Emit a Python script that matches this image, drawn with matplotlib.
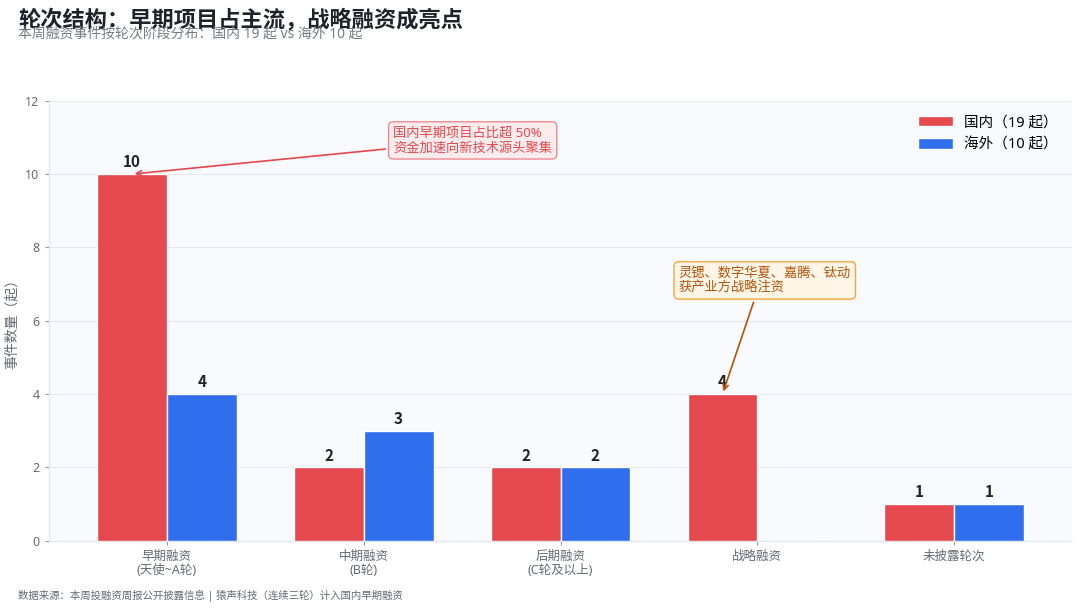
import numpy as np
import matplotlib.pyplot as plt

plt.rcParams['font.family'] = ['Noto Sans', 'Noto Sans CJK SC', 'DejaVu Sans']

# 数据
categories = ['早期融资\n(天使~A轮)', '中期融资\n(B轮)', '后期融资\n(C轮及以上)', '战略融资', '未披露轮次']
domestic = [10, 2, 2, 4, 1]
overseas = [4, 3, 2, 0, 1]

red = '#e5484d'
blue = '#2f6fed'

fig = plt.figure(figsize=(10.8, 6.11), dpi=100)
ax = fig.add_axes([0.045, 0.115, 0.948, 0.72])
ax.set_facecolor('#f9fafe')

x = np.arange(len(categories))
w = 0.355
b1 = ax.bar(x - w / 2, domestic, w, color=red, edgecolor='white', linewidth=1, label='国内（19 起）', zorder=3)
b2 = ax.bar(x + w / 2, overseas, w, color=blue, edgecolor='white', linewidth=1, label='海外（10 起）', zorder=3)

# 柱顶数值
for bars, vals in ((b1, domestic), (b2, overseas)):
    for rect, v in zip(bars, vals):
        if v == 0:
            continue
        ax.text(rect.get_x() + rect.get_width() / 2, v + 0.1, str(v), ha='center', va='bottom',
                fontsize=11, fontweight='bold', color='#222222', zorder=4,
                family=['Noto Sans CJK SC', 'DejaVu Sans'])

ax.set_xlim(-0.6, 4.6)
ax.set_ylim(0, 12)
ax.set_yticks(range(0, 13, 2))
ax.set_xticks(x)
ax.set_xticklabels(categories, fontsize=9, color='#666a75', linespacing=1.1)
ax.tick_params(axis='y', labelsize=9, labelcolor='#666a75', color='#999999', length=3)
ax.tick_params(axis='x', color='#999999', length=3)
ax.grid(axis='y', color='#e6e8ef', linewidth=0.8, zorder=0)
for s in ('top', 'right'):
    ax.spines[s].set_visible(False)
for s in ('left', 'bottom'):
    ax.spines[s].set_color('#e3e5ec')
ax.set_ylabel('事件数量（起）', fontsize=10, color='#666a75')

leg = ax.legend(loc='upper right', frameon=False, fontsize=10.5, handlelength=2.4, borderaxespad=0.6)

ax.annotate('国内早期项目占比超 50%\n资金加速向新技术源头聚集', xy=(0 - w / 2, 10), xytext=(1.15, 10.92),
            fontsize=9.5, color=red, ha='left', va='center', linespacing=1.2,
            bbox=dict(boxstyle='round,pad=0.35', fc='#fdecee', ec='#ee8a8e', lw=1),
            arrowprops=dict(arrowstyle='->', color=red, lw=1.2), zorder=5)

ax.annotate('灵锶、数字华夏、嘉腾、钛动\n获产业方战略注资', xy=(3 - w / 2, 4), xytext=(2.6, 7.1),
            fontsize=9.5, color='#b45309', ha='left', va='center', linespacing=1.2,
            bbox=dict(boxstyle='round,pad=0.35', fc='#fff5e6', ec='#f0a840', lw=1),
            arrowprops=dict(arrowstyle='->', color='#b45309', lw=1.2,
                            relpos=(0.45, 0)), zorder=5)

fig.text(0.017, 0.967, '轮次结构：早期项目占主流，战略融资成亮点', fontsize=16, fontweight='bold',
         color='#1f2329', ha='left', va='center')
fig.text(0.017, 0.945, '本周融资事件按轮次阶段分布：国内 19 起 vs 海外 10 起', fontsize=10,
         color='#777b85', ha='left', va='center')
fig.text(0.017, 0.024, '数据来源：本周投融资周报公开披露信息 | 猿声科技（连续三轮）计入国内早期融资',
         fontsize=7.5, color='#666a75', ha='left', va='center')

fig.savefig('out.png', dpi=100)
